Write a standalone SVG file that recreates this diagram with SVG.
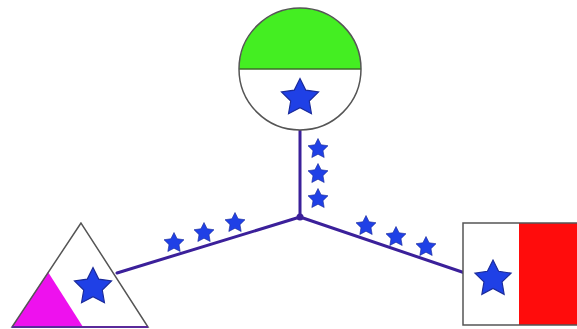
<svg xmlns="http://www.w3.org/2000/svg" width="577" height="329" viewBox="0 0 577 329">
<style>
.conn{stroke:#3b209a;stroke-width:3;fill:none;stroke-linecap:round}
.star{fill:#1f40e6;stroke:#1a2a9a;stroke-width:0.6}
.outline{fill:none;stroke:#555;stroke-width:1.5}
</style>
<defs>
<path id="star" class="star" d="M0,-10 L2.94,-4.05 L9.51,-3.09 L4.76,1.55 L5.88,8.09 L0,5 L-5.88,8.09 L-4.76,1.55 L-9.51,-3.09 L-2.94,-4.05Z"/>
</defs>
<rect width="577" height="329" fill="#fff"/>
<g id="connectors">
<line class="conn" x1="300" y1="130" x2="300" y2="217"/>
<line class="conn" x1="300" y1="217" x2="117" y2="273"/>
<line class="conn" x1="300" y1="217" x2="465" y2="273"/>
<circle cx="300" cy="217" r="3.5" fill="#3b209a"/>
<use href="#star" transform="translate(318,149) scale(1.05)"/>
<use href="#star" transform="translate(318,174) scale(1.05)"/>
<use href="#star" transform="translate(318,199) scale(1.05)"/>
<use href="#star" transform="translate(174,243) scale(1.05)"/>
<use href="#star" transform="translate(204,233) scale(1.05)"/>
<use href="#star" transform="translate(235,223) scale(1.05)"/>
<use href="#star" transform="translate(366,226) scale(1.05)"/>
<use href="#star" transform="translate(396,237) scale(1.05)"/>
<use href="#star" transform="translate(426,247) scale(1.05)"/>
</g>
<g id="circle-node">
<circle cx="300" cy="69" r="61" fill="#fff"/>
<path d="M239,69 A61,61 0 0 1 361,69 Z" fill="#44ee22"/>
<line x1="239" y1="69" x2="361" y2="69" stroke="#3d6b2a" stroke-width="1.5"/>
<circle class="outline" cx="300" cy="69" r="61"/>
<use href="#star" transform="translate(300,98) scale(1.95)"/>
</g>
<g id="triangle-node">
<polygon points="81,223 12,327 148,327" fill="#fff"/>
<polygon points="48,272 12,327 83,327" fill="#ee11ee"/>
<polygon class="outline" points="81,223 12,327 148,327"/>
<line x1="12" y1="327" x2="148" y2="327" stroke="#5a2a9a" stroke-width="2"/>
<use href="#star" transform="translate(93,287) scale(1.95)"/>
</g>
<g id="rect-node">
<rect x="463" y="223" width="120" height="102" fill="#fff"/>
<rect x="519" y="223" width="64" height="102" fill="#ff0c0c"/>
<rect class="outline" x="463" y="223" width="120" height="102"/>
<use href="#star" transform="translate(493,279) scale(1.9)"/>
</g>
</svg>
